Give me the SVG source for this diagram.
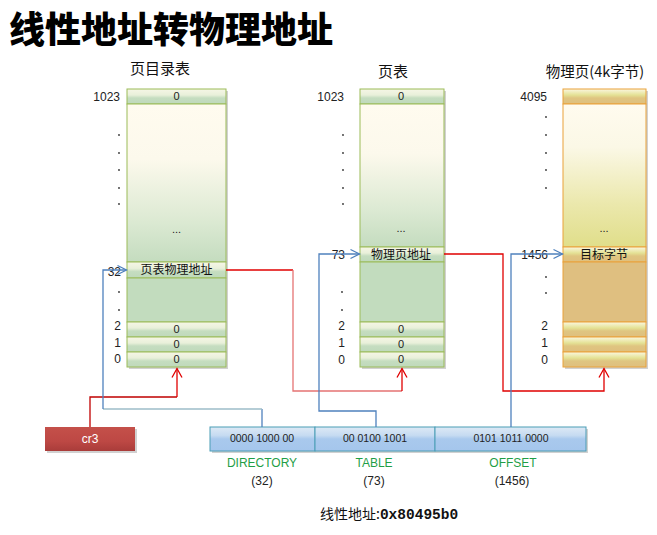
<svg xmlns="http://www.w3.org/2000/svg" width="657" height="535" viewBox="0 0 657 535">
<style>
.t{font-family:"Liberation Sans","Noto Sans CJK SC",sans-serif;fill:#111}
.cjk{font-family:"Noto Sans CJK SC","Liberation Sans",sans-serif;fill:#111}
.num{font-family:"Liberation Sans","DejaVu Sans",sans-serif;font-size:12px;fill:#222;text-anchor:end}
.cell{font-family:"Liberation Sans",sans-serif;font-size:11px;fill:#222;text-anchor:middle}
.cellc{font-family:"Noto Sans CJK SC","Liberation Sans",sans-serif;font-size:12px;fill:#111;text-anchor:middle}
.g{stroke:#9bbb59;stroke-width:1}
.o{stroke:#e9a23b;stroke-width:1}
.bin{font-family:"Liberation Sans",sans-serif;font-size:10.5px;fill:#222;text-anchor:middle}
.lab{font-family:"Liberation Sans",sans-serif;font-size:12px;fill:#1f9e46;text-anchor:middle}
.par{font-family:"Liberation Sans",sans-serif;font-size:12px;fill:#222;text-anchor:middle}
.ab{fill:url(#gAddr);stroke:#4a9db6;stroke-width:1}
.ln{fill:none;stroke-width:1.3}
.blue{stroke:#4f81bd}
.red{stroke:#e00000}
.pink{stroke:#e57373}
.dot{fill:#333}
.sh{fill:#9a9a9a;opacity:0.45}
</style>
<defs>
<linearGradient id="gRow" x1="0" y1="0" x2="0" y2="1">
<stop offset="0" stop-color="#f6f6e6"/><stop offset="0.4" stop-color="#e9f0da"/><stop offset="0.6" stop-color="#c5ddc0"/><stop offset="1" stop-color="#bfd9bb"/>
</linearGradient>
<linearGradient id="gBig" x1="0" y1="0" x2="0" y2="1">
<stop offset="0" stop-color="#fffbef"/><stop offset="0.35" stop-color="#fcf9ec"/><stop offset="0.75" stop-color="#dbe9d2"/><stop offset="1" stop-color="#c4dcbf"/>
</linearGradient>
<linearGradient id="gRowT" x1="0" y1="0" x2="0" y2="1">
<stop offset="0" stop-color="#fbf7e0"/><stop offset="0.4" stop-color="#e4e295"/><stop offset="0.6" stop-color="#dfc581"/><stop offset="1" stop-color="#dfbf7e"/>
</linearGradient>
<linearGradient id="gBigT" x1="0" y1="0" x2="0" y2="1">
<stop offset="0" stop-color="#fffbef"/><stop offset="0.3" stop-color="#fbf8e6"/><stop offset="0.7" stop-color="#ebe8ac"/><stop offset="1" stop-color="#e0de8a"/>
</linearGradient>
<linearGradient id="gAddr" x1="0" y1="0" x2="0" y2="1">
<stop offset="0" stop-color="#dde9f5"/><stop offset="0.35" stop-color="#c6dbf1"/><stop offset="0.5" stop-color="#a9c9ed"/><stop offset="1" stop-color="#a5c6ec"/>
</linearGradient>
<linearGradient id="gCr3" x1="0" y1="0" x2="0" y2="1">
<stop offset="0" stop-color="#c4504a"/><stop offset="0.6" stop-color="#bd4844"/><stop offset="1" stop-color="#a93c3a"/>
</linearGradient>
<marker id="aR" markerUnits="userSpaceOnUse" markerWidth="12" markerHeight="12" refX="10" refY="5" orient="auto" overflow="visible">
<path d="M1,0.5 L10,5 L1,9.5" fill="none" stroke="#4f81bd" stroke-width="1.3"/>
</marker>
<marker id="aU" markerUnits="userSpaceOnUse" markerWidth="12" markerHeight="12" refX="10" refY="5" orient="auto" overflow="visible">
<path d="M1,0 L10,5 L1,10" fill="none" stroke="#e00000" stroke-width="1.3"/>
</marker>
</defs>
<rect width="657" height="535" fill="#ffffff"/>

<g id="title">
<text x="9" y="43" font-family="'Noto Sans CJK SC',sans-serif" font-size="36" font-weight="900" fill="#000">线性地址转物理地址</text>
</g>

<g id="page-directory">
<text class="cjk" x="160" y="74" font-size="15" text-anchor="middle">页目录表</text>
<rect class="sh" x="129" y="91" width="99" height="278"/>
<rect class="g" x="127" y="89" width="99" height="15" fill="url(#gRow)"/>
<rect class="g" x="127" y="104" width="99" height="158" fill="url(#gBig)"/>
<rect class="g" x="127" y="262" width="99" height="16" fill="url(#gRow)"/>
<rect class="g" x="127" y="278" width="99" height="44" fill="#c2dcbe"/>
<rect class="g" x="127" y="322" width="99" height="15" fill="url(#gRow)"/>
<rect class="g" x="127" y="337" width="99" height="15" fill="url(#gRow)"/>
<rect class="g" x="127" y="352" width="99" height="15" fill="url(#gRow)"/>
<text class="cell" x="176.5" y="100">0</text>
<text class="cell" x="176.5" y="233" font-size="9">...</text>
<text class="cellc" x="176.5" y="274">页表物理地址</text>
<text class="cell" x="176.5" y="333">0</text>
<text class="cell" x="176.5" y="348">0</text>
<text class="cell" x="176.5" y="363">0</text>
<text class="num" x="120" y="101">1023</text>
<circle class="dot" cx="119" cy="135" r="0.9"/><circle class="dot" cx="119" cy="153" r="0.9"/><circle class="dot" cx="119" cy="170" r="0.9"/><circle class="dot" cx="119" cy="188" r="0.9"/><circle class="dot" cx="119" cy="204" r="0.9"/>
<text class="num" x="121" y="276">32</text>
<circle class="dot" cx="119" cy="292" r="0.9"/><circle class="dot" cx="119" cy="310" r="0.9"/>
<text class="num" x="121" y="330">2</text>
<text class="num" x="121" y="347">1</text>
<text class="num" x="121" y="363">0</text>
</g>

<g id="page-table">
<text class="cjk" x="393" y="77" font-size="15" text-anchor="middle">页表</text>
<rect class="sh" x="362" y="91" width="84" height="278"/>
<rect class="g" x="360" y="89" width="84" height="15" fill="url(#gRow)"/>
<rect class="g" x="360" y="104" width="84" height="143" fill="url(#gBig)"/>
<rect class="g" x="360" y="247" width="84" height="15" fill="url(#gRow)"/>
<rect class="g" x="360" y="262" width="84" height="60" fill="#c2dcbe"/>
<rect class="g" x="360" y="322" width="84" height="15" fill="url(#gRow)"/>
<rect class="g" x="360" y="337" width="84" height="15" fill="url(#gRow)"/>
<rect class="g" x="360" y="352" width="84" height="15" fill="url(#gRow)"/>
<text class="cell" x="401" y="100">0</text>
<text class="cell" x="401" y="232" font-size="9">...</text>
<text class="cellc" x="401" y="259">物理页地址</text>
<text class="cell" x="401" y="333">0</text>
<text class="cell" x="401" y="348">0</text>
<text class="cell" x="401" y="363">0</text>
<text class="num" x="344" y="101">1023</text>
<circle class="dot" cx="343" cy="135" r="0.9"/><circle class="dot" cx="343" cy="153" r="0.9"/><circle class="dot" cx="343" cy="170" r="0.9"/><circle class="dot" cx="343" cy="188" r="0.9"/><circle class="dot" cx="343" cy="204" r="0.9"/>
<text class="num" x="345" y="259">73</text>
<circle class="dot" cx="342" cy="292" r="0.9"/><circle class="dot" cx="342" cy="310" r="0.9"/>
<text class="num" x="345" y="330">2</text>
<text class="num" x="345" y="347">1</text>
<text class="num" x="345" y="364">0</text>
</g>

<g id="physical-page">
<text class="cjk" x="595" y="77" font-size="14.5" text-anchor="middle">物理页(4k字节)</text>
<rect class="sh" x="565" y="91" width="83" height="278"/>
<rect class="o" x="563" y="89" width="83" height="15" fill="url(#gRowT)"/>
<rect class="o" x="563" y="104" width="83" height="143" fill="url(#gBigT)" stroke="#cfe0b8"/>
<rect class="o" x="563" y="247" width="83" height="15" fill="url(#gRowT)"/>
<rect class="o" x="563" y="262" width="83" height="60" fill="#dfbf80"/>
<rect class="o" x="563" y="322" width="83" height="15" fill="url(#gRowT)"/>
<rect class="o" x="563" y="337" width="83" height="15" fill="url(#gRowT)"/>
<rect class="o" x="563" y="352" width="83" height="15" fill="url(#gRowT)"/>
<text class="cell" x="604" y="232" font-size="9">...</text>
<text class="cellc" x="604" y="259">目标字节</text>
<text class="num" x="547" y="101">4095</text>
<circle class="dot" cx="546" cy="117" r="0.9"/><circle class="dot" cx="546" cy="135" r="0.9"/><circle class="dot" cx="546" cy="153" r="0.9"/><circle class="dot" cx="546" cy="170" r="0.9"/><circle class="dot" cx="546" cy="188" r="0.9"/>
<text class="num" x="548" y="259">1456</text>
<circle class="dot" cx="546" cy="277" r="0.9"/><circle class="dot" cx="546" cy="293" r="0.9"/>
<text class="num" x="548" y="330">2</text>
<text class="num" x="548" y="347">1</text>
<text class="num" x="548" y="364">0</text>
</g>

<g id="cr3">
<rect x="47" y="429" width="90" height="24" class="sh"/>
<rect x="45" y="427" width="90" height="24" fill="url(#gCr3)"/>
<text x="90" y="443" font-family="'Liberation Sans',sans-serif" font-size="12" fill="#ffffff" text-anchor="middle">cr3</text>
</g>

<g id="addr-directory">
<rect class="sh" x="212" y="429" width="105" height="24"/>
<rect class="ab" x="210" y="427" width="105" height="24"/>
<text class="bin" x="262" y="442">0000 1000 00</text>
<text class="lab" x="262" y="467">DIRECTORY</text>
<text class="par" x="262" y="485">(32)</text>
</g>
<g id="addr-table">
<rect class="sh" x="317" y="429" width="120" height="24"/>
<rect class="ab" x="315" y="427" width="120" height="24"/>
<text class="bin" x="375" y="442">00 0100 1001</text>
<text class="lab" x="374" y="467">TABLE</text>
<text class="par" x="374" y="485">(73)</text>
</g>
<g id="addr-offset">
<rect class="sh" x="437" y="429" width="151" height="24"/>
<rect class="ab" x="435" y="427" width="151" height="24"/>
<text class="bin" x="511" y="442">0101 1011 0000</text>
<text class="lab" x="513" y="467">OFFSET</text>
<text class="par" x="512" y="485">(1456)</text>
</g>

<g id="linear-address">
<text x="320" y="519" font-family="'Noto Sans CJK SC',sans-serif" font-size="14" fill="#111">线性地址:<tspan font-family="'Liberation Mono',monospace" font-weight="bold" font-size="14.5">0x80495b0</tspan></text>
</g>

<g id="connectors">
<path class="ln" stroke="#c00000" d="M90,427 V397 H177"/>
<path class="ln red" d="M177,397 V368.5" marker-end="url(#aU)"/>
<path class="ln blue" d="M262,427 V409"/>
<path class="ln" stroke="#9dbdc8" d="M262,409 H103"/>
<path class="ln blue" d="M103,409 V270 H126.5" marker-end="url(#aR)"/>
<path class="ln red" d="M226,270 H293"/>
<path class="ln pink" d="M293,270 V391 H402"/>
<path class="ln red" d="M402,391 V368.5" marker-end="url(#aU)"/>
<path class="ln blue" d="M376,427 V411 H319 V254 H359.5" marker-end="url(#aR)"/>
<path class="ln red" d="M444,254 H503 V391 H604 V368.5" marker-end="url(#aU)"/>
<path class="ln blue" d="M511,427 V254 H562.5" marker-end="url(#aR)"/>
</g>
</svg>
